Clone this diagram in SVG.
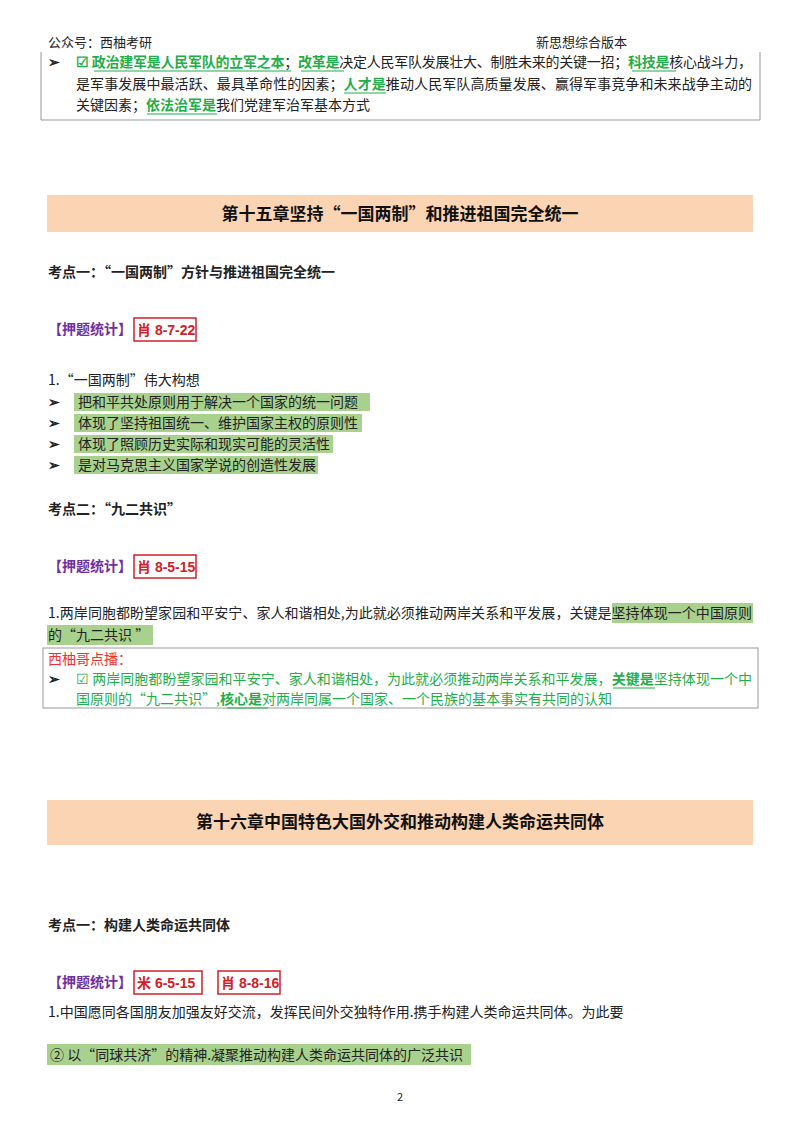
<svg xmlns="http://www.w3.org/2000/svg" width="800" height="1132" viewBox="0 0 800 1132">
<style>
text{font-family:"Noto Sans CJK SC","Liberation Sans",sans-serif;font-size:14px;fill:#222}
.b{font-weight:bold}
.g{fill:#1fae4a}
.gb{fill:#1fae4a;font-weight:bold}
.ul{stroke:#1fae4a;stroke-width:1.2}
.hl{fill:#a9d18e}
.band{fill:#fbd4b4}
.h{font-size:17px;font-weight:bold;fill:#111}
.p{fill:#7030a0;font-weight:bold}
.rb{fill:none;stroke:#d0202a;stroke-width:1.5}
.rt{fill:#d0202a;font-weight:bold;font-family:"Liberation Sans","Noto Sans CJK SC",sans-serif;font-size:14px}
.box{fill:none;stroke:#999;stroke-width:1}
</style>
<rect width="800" height="1132" fill="#fff"/>
<g id="header">
<text x="48" y="47" style="font-size:13px">公众号：西柚考研</text>
<text x="536" y="47" style="font-size:13px">新思想综合版本</text>
</g>
<g id="box1">
<path class="box" d="M41 52V120H760V52"/>
<text x="48" y="67" class="b">➢</text>
<text x="76" y="67" textLength="676" lengthAdjust="spacing"><tspan class="gb">☑ 政治建军是人民军队的立军之本</tspan>；<tspan class="gb">改革是</tspan>决定人民军队发展壮大、制胜未来的关键一招；<tspan class="gb">科技是</tspan>核心战斗力，</text>
<text x="76" y="89" textLength="676" lengthAdjust="spacing">是军事发展中最活跃、最具革命性的因素；<tspan class="gb">人才是</tspan>推动人民军队高质量发展、赢得军事竞争和未来战争主动的</text>
<text x="76" y="110">关键因素；<tspan class="gb">依法治军是</tspan>我们党建军治军基本方式</text>
<line class="ul" x1="94" y1="71" x2="291" y2="71"/>
<line class="ul" x1="301" y1="71" x2="344" y2="71"/>
<line class="ul" x1="632" y1="71" x2="676" y2="71"/>
<line class="ul" x1="344" y1="93" x2="386" y2="93"/>
<line class="ul" x1="147" y1="114" x2="217" y2="114"/>
</g>
<g id="ch15">
<rect class="band" x="47" y="195" width="706" height="37"/>
<text x="400" y="220" class="h" text-anchor="middle">第十五章坚持“一国两制”和推进祖国完全统一</text>
<text x="48" y="277" class="b">考点一：“一国两制”方针与推进祖国完全统一</text>
<text x="48" y="334" class="p">【押题统计】</text>
<rect class="rb" x="134" y="318" width="62" height="23"/>
<text x="137" y="335" class="rt">肖 8-7-22</text>
<text x="48" y="385">1.“一国两制”伟大构想</text>
<rect class="hl" x="74" y="393" width="296" height="18"/>
<rect class="hl" x="74" y="414" width="288" height="18"/>
<rect class="hl" x="74" y="435" width="259" height="18"/>
<rect class="hl" x="74" y="456" width="244" height="18"/>
<text x="48" y="407" class="b">➢</text><text x="78" y="407">把和平共处原则用于解决一个国家的统一问题</text>
<text x="48" y="428" class="b">➢</text><text x="78" y="428">体现了坚持祖国统一、维护国家主权的原则性</text>
<text x="48" y="449" class="b">➢</text><text x="78" y="449">体现了照顾历史实际和现实可能的灵活性</text>
<text x="48" y="470" class="b">➢</text><text x="78" y="470">是对马克思主义国家学说的创造性发展</text>
<text x="48" y="514" class="b">考点二：“九二共识”</text>
<text x="48" y="571" class="p">【押题统计】</text>
<rect class="rb" x="134" y="555" width="62" height="23"/>
<text x="137" y="572" class="rt">肖 8-5-15</text>
<rect class="hl" x="612" y="603" width="141" height="20"/>
<rect class="hl" x="47" y="625" width="106" height="20"/>
<text x="48" y="618" textLength="704" lengthAdjust="spacing">1.两岸同胞都盼望家园和平安宁、家人和谐相处,为此就必须推动两岸关系和平发展，关键是坚持体现一个中国原则</text>
<text x="48" y="640">的“九二共识 ”</text>
</g>
<g id="box2">
<rect class="box" x="43" y="648" width="715" height="60"/>
<text x="48" y="664" style="fill:#f03030">西柚哥点播：</text>
<text x="48" y="684" class="b">➢</text>
<text x="76" y="684" class="g" textLength="676" lengthAdjust="spacing">☑ 两岸同胞都盼望家园和平安宁、家人和谐相处，为此就必须推动两岸关系和平发展，<tspan class="gb">关键是</tspan>坚持体现一个中</text>
<text x="76" y="704" class="g">国原则的“九二共识”,<tspan class="gb">核心是</tspan>对两岸同属一个国家、一个民族的基本事实有共同的认知</text>
<line class="ul" x1="613" y1="688" x2="655" y2="688"/>
<line class="ul" x1="227" y1="708" x2="268" y2="708"/>
</g>
<g id="ch16">
<rect class="band" x="47" y="800" width="706" height="45"/>
<text x="400" y="828" class="h" text-anchor="middle">第十六章中国特色大国外交和推动构建人类命运共同体</text>
<text x="48" y="930" class="b">考点一：构建人类命运共同体</text>
<text x="48" y="987" class="p">【押题统计】</text>
<rect class="rb" x="134" y="971" width="68" height="23"/>
<text x="137" y="988" class="rt">米 6-5-15</text>
<rect class="rb" x="218" y="971" width="62" height="23"/>
<text x="221" y="988" class="rt">肖 8-8-16</text>
<text x="48" y="1017">1.中国愿同各国朋友加强友好交流，发挥民间外交独特作用.携手构建人类命运共同体。为此要</text>
<rect class="hl" x="47" y="1044" width="424" height="21"/>
<text x="50" y="1060">② 以“同球共济”的精神.凝聚推动构建人类命运共同体的广泛共识</text>
</g>
<text x="400" y="1101" text-anchor="middle" style="font-size:11px">2</text>
</svg>
